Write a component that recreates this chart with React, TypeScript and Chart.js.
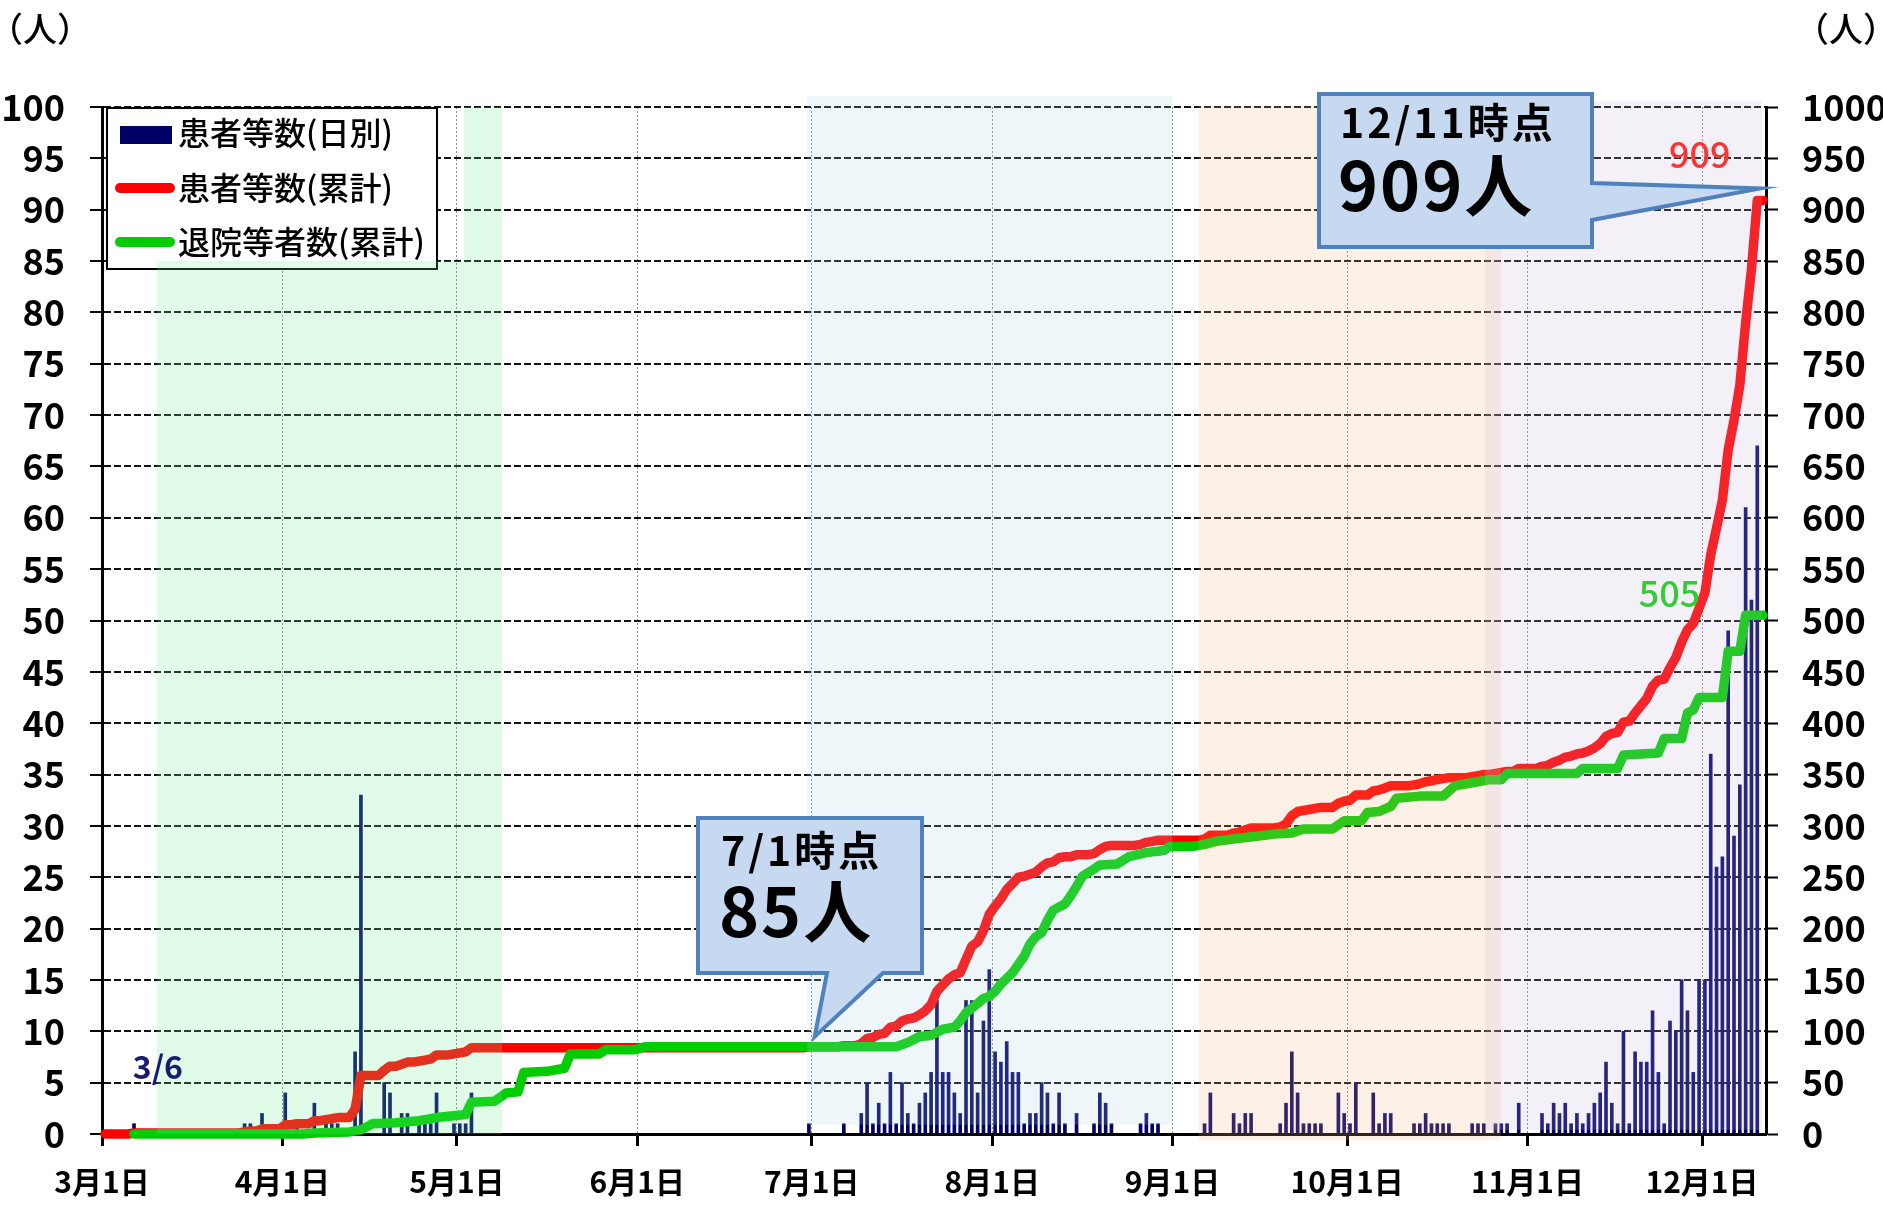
import React, { useEffect, useRef } from 'react';
import { Chart, registerables } from 'chart.js';

Chart.register(...registerables);

// Day index 0 = 3月1日 (2020). Each day occupies one band on the x axis.
const monthStartDays = [0, 31, 61, 92, 122, 153, 184, 214, 245, 275];
const monthLabels = ['3月1日', '4月1日', '5月1日', '6月1日', '7月1日', '8月1日', '9月1日', '10月1日', '11月1日', '12月1日'];
const axisEndDay = 286;

// 患者等数(日別): [day index, count]
const dailyCases: [number, number][] = [
  [5, 1], [24, 1], [25, 1], [27, 2], [31, 4], [33, 1], [36, 3], [38, 1], [39, 1], [40, 1],
  [43, 8], [44, 33], [48, 5], [49, 4], [51, 2], [52, 2], [54, 1], [55, 1], [56, 1], [57, 4],
  [60, 1], [61, 1], [62, 1], [63, 4],
  [121, 1], [127, 1], [130, 2], [131, 5], [132, 1], [133, 3], [134, 1], [135, 6], [136, 1], [137, 5],
  [138, 2], [139, 1], [140, 3], [141, 4], [142, 6], [143, 13], [144, 6], [145, 6], [146, 4], [147, 2],
  [148, 13], [149, 13], [150, 4], [151, 11], [152, 16],
  [153, 8], [154, 7], [155, 9], [156, 6], [157, 6], [158, 1], [159, 2], [160, 2], [161, 5], [162, 4],
  [163, 1], [164, 4], [165, 1], [167, 2], [170, 1], [171, 4], [172, 3], [173, 1], [178, 1], [179, 2],
  [180, 1], [181, 1],
  [189, 1], [190, 4], [194, 2], [195, 1], [196, 2], [197, 2], [202, 1], [203, 3], [204, 8], [205, 4],
  [206, 1], [207, 1], [208, 1], [209, 1], [212, 4], [213, 2],
  [214, 1], [215, 5], [218, 4], [219, 1], [220, 2], [221, 2], [225, 1], [226, 1], [227, 2], [228, 1],
  [229, 1], [230, 1], [231, 1], [235, 1], [236, 1], [237, 1], [239, 1], [240, 1], [241, 1], [243, 3],
  [247, 2], [248, 1], [249, 3], [250, 2], [251, 3], [252, 1], [253, 2], [254, 1], [255, 2], [256, 3],
  [257, 4], [258, 7], [259, 3], [260, 1], [261, 10], [262, 1], [263, 8], [264, 7], [265, 7], [266, 12],
  [267, 6], [268, 1], [269, 11], [270, 10], [271, 15], [272, 12], [273, 6], [274, 15],
  [275, 15], [276, 37], [277, 26], [278, 27], [279, 49], [280, 29], [281, 34], [282, 61], [283, 52], [284, 67],
];

// 患者等数(累計): [day index, cumulative]
const cumulativeCases: [number, number][] = [
  [0, 0], [4, 0], [5, 1], [23, 1], [24, 2], [25, 3], [26, 3], [27, 5], [30, 5], [31, 9], [32, 9], [33, 10],
  [35, 10], [36, 13], [37, 13], [38, 14], [39, 15], [40, 16], [42, 16], [43, 24], [44, 57], [47, 57], [48, 62],
  [49, 66], [50, 66], [51, 68], [52, 70], [53, 70], [54, 71], [55, 72], [56, 73], [57, 77], [59, 77], [60, 78],
  [61, 79], [62, 80], [63, 84], [120, 84], [121, 85], [126, 85], [127, 86], [129, 86], [130, 88], [131, 93],
  [132, 94], [133, 97], [134, 98], [135, 104], [136, 105], [137, 110], [138, 112], [139, 113], [140, 116],
  [141, 120], [142, 126], [143, 139], [144, 145], [145, 151], [146, 155], [147, 157], [148, 170], [149, 183],
  [150, 187], [151, 198], [152, 214], [153, 222], [154, 229], [155, 238], [156, 244], [157, 250], [158, 251],
  [159, 253], [160, 255], [161, 260], [162, 264], [163, 265], [164, 269], [165, 270], [166, 270], [167, 272],
  [169, 272], [170, 273], [171, 277], [172, 280], [173, 281], [177, 281], [178, 282], [179, 284], [180, 285],
  [181, 286], [188, 286], [189, 287], [190, 291], [193, 291], [194, 293], [195, 294], [196, 296], [197, 298],
  [201, 298], [202, 299], [203, 302], [204, 310], [205, 314], [206, 315], [207, 316], [208, 317], [209, 318],
  [211, 318], [212, 322], [213, 324], [214, 325], [215, 330], [217, 330], [218, 334], [219, 335], [220, 337],
  [221, 339], [224, 339], [225, 340], [226, 341], [227, 343], [228, 344], [229, 345], [230, 346], [231, 347],
  [234, 347], [235, 348], [236, 349], [237, 350], [238, 350], [239, 351], [240, 352], [241, 353], [242, 353],
  [243, 356], [246, 356], [247, 358], [248, 359], [249, 362], [250, 364], [251, 367], [252, 368], [253, 370],
  [254, 371], [255, 373], [256, 376], [257, 380], [258, 387], [259, 390], [260, 391], [261, 401], [262, 402],
  [263, 410], [264, 417], [265, 424], [266, 436], [267, 442], [268, 443], [269, 454], [270, 464], [271, 479],
  [272, 491], [273, 497], [274, 512], [275, 527], [276, 564], [277, 590], [278, 617], [279, 666], [280, 695],
  [281, 729], [282, 790], [283, 842], [284, 909], [285, 909],
];

// 退院等者数(累計): [day index, cumulative]
const cumulativeDischarged: [number, number][] = [
  [5, 0], [34, 0], [36, 1], [42, 2], [44, 4], [46, 10], [50, 11], [52, 12], [54, 13], [57, 16], [62, 19],
  [63, 31], [67, 32], [69, 40], [71, 41], [72, 60], [76, 61], [79, 64], [80, 78], [85, 78], [86, 82], [91, 82],
  [93, 85], [136, 85], [138, 89], [140, 95], [142, 96], [144, 102], [146, 104], [147, 110], [148, 118],
  [150, 127], [151, 132], [152, 134], [153, 139], [154, 146], [156, 157], [158, 173], [159, 185], [160, 192],
  [161, 196], [162, 208], [163, 218], [165, 224], [166, 232], [167, 241], [168, 251], [170, 258], [171, 262],
  [174, 263], [176, 270], [179, 274], [182, 276], [183, 280], [187, 280], [189, 282], [191, 285], [195, 288],
  [198, 290], [201, 292], [204, 293], [206, 297], [211, 297], [213, 305], [216, 305], [217, 313], [219, 314],
  [221, 319], [222, 327], [226, 329], [230, 329], [232, 339], [234, 341], [236, 343], [238, 345], [240, 345],
  [241, 351], [253, 351], [254, 356], [260, 356], [261, 369], [267, 371], [268, 385], [271, 385], [272, 410],
  [273, 413], [274, 425], [278, 425], [279, 470], [281, 470], [282, 505], [285, 505],
];

// Highlighted periods: [from day, to day, top (left-axis value), bottom (left-axis value)]
const shadedPeriods: [number, number, number, number][] = [
  [9.45, 62.2, 85, 0],
  [62.2, 68.75, 100, 0],
  [121.2, 184, 101.1, 0.9],
  [188.5, 240.4, 100.1, -0.6],
  [237.7, 285.3, 100.6, 0.4],
];
const shadedColors = [
  'rgba(108,236,148,0.21)',
  'rgba(108,236,148,0.21)',
  'rgba(170,210,225,0.2)',
  'rgba(245,180,130,0.2)',
  'rgba(195,185,215,0.2)',
];

const legendLabels = ['患者等数(日別)', '患者等数(累計)', '退院等者数(累計)'];
const callout1Lines = ['7/1時点', '85人'];
const callout2Lines = ['12/11時点', '909人'];
const firstCaseLabel = '3/6';
const lastCaseTotalLabel = '909';
const lastDischargedLabel = '505';
const unitLabel = '（人）';

const FONT = '"Noto Sans CJK JP", "Noto Sans", sans-serif';
const NAVY = '#000066';
const RED = '#FF0000';
const GREEN = '#00CC00';

const toPoints = (arr: [number, number][]) => arr.map(([d, v]) => ({ x: d + 0.5, y: v }));

function drawCallout(ctx: CanvasRenderingContext2D, pts: [number, number][]) {
  ctx.save();
  ctx.beginPath();
  pts.forEach(([px, py], i) => (i === 0 ? ctx.moveTo(px, py) : ctx.lineTo(px, py)));
  ctx.closePath();
  ctx.fillStyle = '#C6D9F1';
  ctx.fill();
  ctx.lineWidth = 4;
  ctx.lineJoin = 'miter';
  ctx.strokeStyle = '#4F81BD';
  ctx.stroke();
  ctx.restore();
}

function setSpacing(ctx: any, v: string) {
  if ('letterSpacing' in ctx) ctx.letterSpacing = v;
}

const overlayPlugin = {
  id: 'overlayPlugin',
  afterDatasetsDraw(chart: any) {
    const { ctx } = chart;
    const x = chart.scales.x;
    const y = chart.scales.y;
    const y1 = chart.scales.y1;

    // legend box
    ctx.save();
    ctx.fillStyle = '#fff';
    ctx.fillRect(107, 108, 330, 161);
    ctx.strokeStyle = '#000';
    ctx.lineWidth = 2;
    ctx.strokeRect(107, 108, 330, 161);
    ctx.fillStyle = NAVY;
    ctx.fillRect(120, 126, 52, 18);
    ctx.lineCap = 'round';
    ctx.lineWidth = 10;
    ctx.strokeStyle = RED;
    ctx.beginPath();
    ctx.moveTo(120, 188);
    ctx.lineTo(170, 188);
    ctx.stroke();
    ctx.strokeStyle = GREEN;
    ctx.beginPath();
    ctx.moveTo(120, 242);
    ctx.lineTo(170, 242);
    ctx.stroke();
    ctx.fillStyle = '#000';
    ctx.font = `500 32px ${FONT}`;
    ctx.textBaseline = 'middle';
    ctx.textAlign = 'left';
    ctx.fillText(legendLabels[0], 178, 133);
    ctx.fillText(legendLabels[1], 178, 188);
    ctx.fillText(legendLabels[2], 178, 242);
    ctx.restore();

    // translucent period overlays
    ctx.save();
    shadedPeriods.forEach(([from, to, top, bottom], i) => {
      const x0 = x.getPixelForValue(from);
      const x1 = x.getPixelForValue(to);
      const yt = y.getPixelForValue(top);
      const yb = y.getPixelForValue(bottom);
      ctx.fillStyle = shadedColors[i];
      ctx.fillRect(x0, yt, x1 - x0, yb - yt);
    });
    ctx.restore();

    // callout 7/1
    const tip1x = x.getPixelForValue(122.5);
    const tip1y = y1.getPixelForValue(85) - 10;
    drawCallout(ctx, [
      [698, 818], [922, 818], [922, 973], [883, 973], [tip1x, tip1y], [827, 973], [698, 973],
    ]);
    // callout 12/11
    const tip2x = x.getPixelForValue(285.0);
    const tip2y = y1.getPixelForValue(909) - 12;
    drawCallout(ctx, [
      [1319, 94], [1592, 94], [1592, 183], [tip2x, tip2y], [1592, 220], [1592, 247], [1319, 247],
    ]);

    ctx.save();
    ctx.fillStyle = '#000';
    ctx.textAlign = 'left';
    ctx.textBaseline = 'alphabetic';
    ctx.font = `bold 41px ${FONT}`;
    setSpacing(ctx, '3px');
    ctx.fillText(callout1Lines[0], 721, 866);
    ctx.fillText(callout2Lines[0], 1340, 138);
    ctx.font = `bold 68px ${FONT}`;
    setSpacing(ctx, '2px');
    ctx.fillText(callout1Lines[1], 719, 937);
    ctx.fillText(callout2Lines[1], 1338, 211);
    setSpacing(ctx, '0px');

    // value labels
    ctx.textAlign = 'center';
    ctx.textBaseline = 'middle';
    ctx.font = `bold 32px ${FONT}`;
    ctx.fillStyle = '#1A1A70';
    ctx.fillText(firstCaseLabel, x.getPixelForValue(9.6), y.getPixelForValue(6.5));
    ctx.font = `500 36px ${FONT}`;
    ctx.fillStyle = '#FF3333';
    ctx.fillText(lastCaseTotalLabel, x.getPixelForValue(274.6), y1.getPixelForValue(954));
    ctx.fillStyle = '#33CC33';
    ctx.fillText(lastDischargedLabel, x.getPixelForValue(269.4), y1.getPixelForValue(526));

    // unit labels
    ctx.fillStyle = '#000';
    ctx.font = `500 34px ${FONT}`;
    ctx.fillText(unitLabel, 40, 29);
    ctx.fillText(unitLabel, 1846, 29);
    ctx.restore();
  },
};

export default function App() {
  const canvasRef = useRef<HTMLCanvasElement | null>(null);

  useEffect(() => {
    document.body.style.margin = '0';
    const canvas = canvasRef.current;
    if (!canvas) return;

    const lineCommon = {
      type: 'line',
      yAxisID: 'y1',
      borderWidth: 9.5,
      pointRadius: 0,
      tension: 0,
      borderJoinStyle: 'round',
      borderCapStyle: 'round',
      clip: false,
    };

    const chart = new Chart(canvas, {
      type: 'bar',
      data: {
        datasets: [
          {
            ...lineCommon,
            label: legendLabels[2],
            data: toPoints(cumulativeDischarged),
            borderColor: GREEN,
            backgroundColor: GREEN,
            order: 0,
          } as any,
          {
            ...lineCommon,
            label: legendLabels[1],
            data: toPoints(cumulativeCases),
            borderColor: RED,
            backgroundColor: RED,
            order: 1,
          } as any,
          {
            type: 'bar',
            label: legendLabels[0],
            data: toPoints(dailyCases),
            yAxisID: 'y',
            backgroundColor: NAVY,
            borderWidth: 0,
            barThickness: 3,
            order: 2,
          } as any,
        ],
      },
      options: {
        responsive: false,
        animation: false,
        devicePixelRatio: 1,
        events: [],
        layout: { padding: { top: 107, left: 0, right: 0, bottom: 0 } },
        plugins: { legend: { display: false }, tooltip: { enabled: false } },
        scales: {
          x: {
            type: 'linear',
            min: 0,
            max: axisEndDay,
            offset: false,
            afterBuildTicks: (s: any) => {
              s.ticks = monthStartDays.map((v) => ({ value: v }));
            },
            afterFit: (s: any) => {
              s.height = 76;
            },
            ticks: {
              autoSkip: false,
              maxRotation: 0,
              minRotation: 0,
              padding: 18,
              color: '#000',
              font: { family: FONT, size: 30, weight: 'bold' },
              callback: (v: any) => {
                const i = monthStartDays.indexOf(Number(v));
                return i >= 0 ? monthLabels[i] : '';
              },
            },
            grid: {
              color: '#8a8a8a',
              lineWidth: 1,
              drawTicks: true,
              tickLength: 12,
              tickColor: '#000',
              tickWidth: 3,
              offset: false,
            },
            border: { display: true, color: '#000', width: 3, dash: [2, 2] },
          },
          y: {
            position: 'left',
            min: 0,
            max: 100,
            afterFit: (s: any) => {
              s.width = 102;
            },
            ticks: {
              stepSize: 5,
              autoSkip: false,
              padding: 25,
              color: '#000',
              font: { family: FONT, size: 36, weight: 'bold' },
              callback: (v: any) => String(v),
            },
            grid: {
              color: '#111',
              lineWidth: 2,
              tickLength: 12,
              tickColor: '#000',
              tickWidth: 2,
            },
            border: { display: true, color: '#000', width: 3, dash: [7, 3] },
          },
          y1: {
            position: 'right',
            min: 0,
            max: 1000,
            afterFit: (s: any) => {
              s.width = 117;
            },
            ticks: {
              stepSize: 50,
              autoSkip: false,
              padding: 24,
              color: '#000',
              font: { family: FONT, size: 36, weight: 'bold' },
              callback: (v: any) => String(v),
            },
            grid: {
              drawOnChartArea: false,
              tickLength: 12,
              tickColor: '#000',
              tickWidth: 2,
            },
            border: { display: true, color: '#000', width: 3 },
          },
        },
      } as any,
      plugins: [overlayPlugin],
    });

    return () => {
      chart.destroy();
    };
  }, []);

  return (
    <div style={{ width: 1883, height: 1210, position: 'relative', background: '#fff' }}>
      <canvas ref={canvasRef} width={1883} height={1210} style={{ display: 'block', width: 1883, height: 1210 }} />
    </div>
  );
}
